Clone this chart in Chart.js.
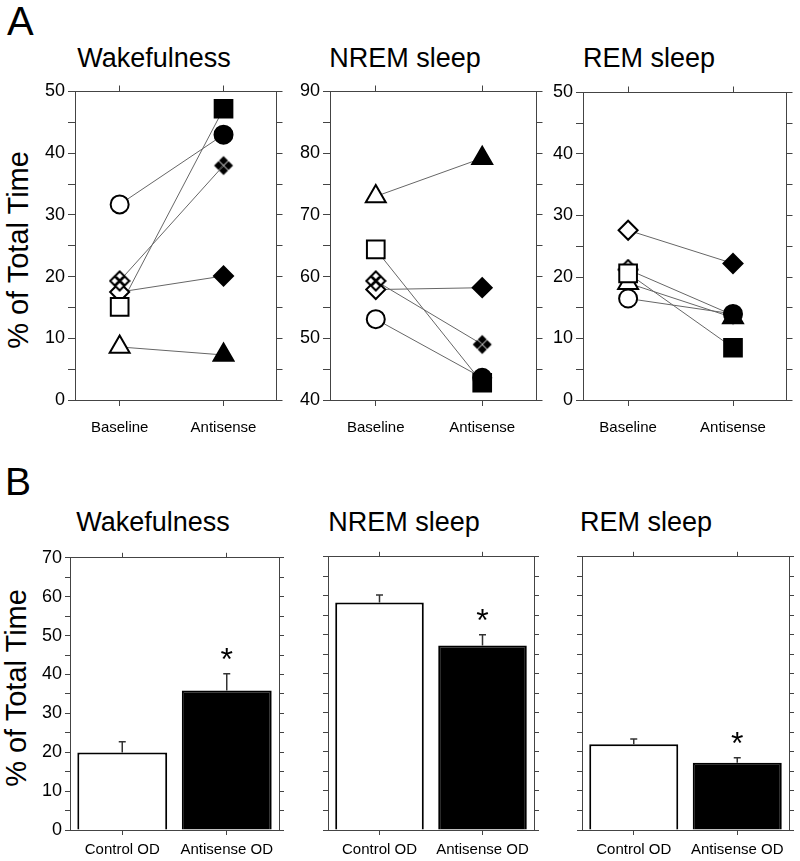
<!DOCTYPE html>
<html>
<head>
<meta charset="utf-8">
<title>Sleep-wake states: baseline vs antisense</title>
<script src="https://cdn.jsdelivr.net/npm/chart.js@4.4.1/dist/chart.umd.min.js"></script>
<style>
  body { margin: 0; background: #fff; }
  #page { position: relative; width: 800px; height: 861px; overflow: hidden;
          font-family: Arial, "Liberation Sans", Helvetica, sans-serif; color: #000; }
  #page canvas { position: absolute; }
  .lbl { position: absolute; white-space: nowrap; line-height: 1; }
  .ttl { font-size: 27px; transform: translateX(-50%); }
  .ylab { font-size: 29px; transform: translate(-50%, -50%) rotate(-90deg); }
</style>
</head>
<body>
<div id="page">
  <div class="lbl" style="left:7px; top:1px; font-size:40px;">A</div>
  <div class="lbl" style="left:5px; top:462px; font-size:39px;">B</div>

  <div class="lbl ttl" style="left:154px; top:45px;">Wakefulness</div>
  <div class="lbl ttl" style="left:405px; top:45px;">NREM sleep</div>
  <div class="lbl ttl" style="left:649px; top:45px;">REM sleep</div>
  <div class="lbl ttl" style="left:153px; top:509px;">Wakefulness</div>
  <div class="lbl ttl" style="left:404px; top:509px;">NREM sleep</div>
  <div class="lbl ttl" style="left:646px; top:509px;">REM sleep</div>

  <div class="lbl ylab" style="left:18px; top:250px;">% of Total Time</div>
  <div class="lbl ylab" style="left:16px; top:688px;">% of Total Time</div>

  <canvas id="aWake"></canvas>
  <canvas id="aNrem"></canvas>
  <canvas id="aRem"></canvas>
  <canvas id="bWake"></canvas>
  <canvas id="bNrem"></canvas>
  <canvas id="bRem"></canvas>
</div>

<script>
// ===========================
// DATA
// ===========================

// panel A: one line per animal, baseline -> antisense
const groupLabelsA = ['Baseline', 'Antisense'];
const markers = ['circle', 'square', 'crossDiamond', 'diamond', 'triangle'];

const wakeBaseline  = [31.7, 15.1, 19.3, 17.5, 8.6];
const wakeAntisense = [43.0, 47.2, 38.0, 20.1, 7.3];

const nremBaseline  = [53.1, 64.4, 59.3, 57.9, 73.0];
const nremAntisense = [43.6, 42.8, 49.0, 58.2, 79.2];

const remBaseline   = [16.5, 20.6, 21.2, 27.6, 19.0];
const remAntisense  = [14.0, 8.5, 13.8, 22.2, 13.4];

// panel B: group mean + SEM
const groupLabelsB = ['Control OD', 'Antisense OD'];
const wakeMean = [19.9, 35.9];
const wakeSem  = [2.8, 4.3];
const nremMean = [58.3, 47.3];
const nremSem  = [1.9, 2.7];
const remMean  = [22.0, 17.2];
const remSem   = [1.3, 1.3];
const significant = [false, true];

// ===========================
// STYLE
// ===========================
const FONT = 'Arial, "Liberation Sans", Helvetica, sans-serif';
const AXIS = '#444';
const LEFT_W = 60, RIGHT_W = 12, TOP_H = 12, BOTTOM_H = 50;

// four little diamonds (the "❖" marker), open or filled
function makeCrossDiamond(filled) {
    let c = document.createElement('canvas');
    c.width = 22; c.height = 22;
    let g = c.getContext('2d');
    let offs = [[0, -5], [5, 0], [0, 5], [-5, 0]];
    let h = 4.5;
    g.beginPath();
    offs.forEach(([dx, dy]) => {
        let x = 11 + dx, y = 11 + dy;
        g.moveTo(x, y - h); g.lineTo(x + h, y); g.lineTo(x, y + h); g.lineTo(x - h, y); g.closePath();
    });
    g.fillStyle = filled ? '#000' : '#fff';
    g.fill();
    if (!filled) { g.lineWidth = 2; g.strokeStyle = '#000'; g.stroke(); }
    return c;
}

const markerStyle = {
    circle:       { open: 'circle',   filled: 'circle',   r: 9 },
    square:       { open: 'rect',     filled: 'rect',     r: 12.5 },
    crossDiamond: { open: makeCrossDiamond(false), filled: makeCrossDiamond(true), r: 10 },
    diamond:      { open: 'rectRot',  filled: 'rectRot',  r: 9.5 },
    triangle:     { open: 'triangle', filled: 'triangle', r: 11.5 }
};

function placeCanvas(id, box) {
    let c = document.getElementById(id);
    let w = (box.r - box.l) + LEFT_W + RIGHT_W;
    let h = (box.b - box.t) + TOP_H + BOTTOM_H;
    c.width = w; c.height = h;
    c.style.left = (box.l - LEFT_W) + 'px';
    c.style.top = (box.t - TOP_H) + 'px';
    c.style.width = w + 'px';
    c.style.height = h + 'px';
    return c;
}

function yAxis(pos, min, max, showLabels, tickLen, width) {
    return {
        type: 'linear', position: pos, min: min, max: max,
        border: { display: true, color: AXIS, width: 1 },
        grid: { drawOnChartArea: false, drawTicks: true, tickLength: tickLen, color: AXIS },
        ticks: {
            stepSize: 5, padding: 3, color: '#000', autoSkip: false,
            font: { size: 18, family: FONT },
            callback: v => (showLabels && v % 10 === 0) ? String(v) : ''
        },
        afterFit: s => { s.width = width; }
    };
}

function xLinearAxis(pos, showLabels, height) {
    return {
        type: 'linear', position: pos, min: -0.43, max: 1.51,
        afterBuildTicks: s => { s.ticks = [{ value: 0 }, { value: 1 }]; },
        border: { display: true, color: AXIS, width: 1 },
        grid: { drawOnChartArea: false, drawTicks: true, tickLength: 6, color: AXIS },
        ticks: {
            padding: 13, color: '#000', autoSkip: false, maxRotation: 0,
            font: { size: 15, family: FONT },
            callback: v => showLabels ? groupLabelsA[v] : ''
        },
        afterFit: s => { s.height = height; }
    };
}

function xCategoryAxis(pos, showLabels, height) {
    return {
        type: 'category', position: pos, labels: groupLabelsB, offset: true,
        border: { display: true, color: AXIS, width: 1 },
        grid: { offset: false, drawOnChartArea: false, drawTicks: true, tickLength: 5, color: AXIS },
        ticks: {
            padding: 6, color: '#000', autoSkip: false, maxRotation: 0,
            font: { size: 15, family: FONT },
            callback: (v, i) => showLabels ? groupLabelsB[i] : ''
        },
        afterFit: s => { s.height = height; }
    };
}

const baseOptions = {
    responsive: false,
    animation: false,
    devicePixelRatio: 1,
    layout: { padding: 0 },
    plugins: { legend: { display: false }, tooltip: { enabled: false } }
};

// =============== PANEL A (paired lines) ===============
function pairedChart(id, box, yMin, yMax, base, anti) {
    let canvas = placeCanvas(id, box);
    let datasets = [];
    // points on top (order 0), connecting lines below (order 1)
    markers.forEach((m, i) => {
        let st = markerStyle[m];
        datasets.push({
            data: [{ x: 0, y: base[i] }, { x: 1, y: anti[i] }],
            showLine: false,
            order: 0,
            pointStyle: [st.open, st.filled],
            pointRadius: st.r,
            pointBackgroundColor: ['#fff', '#000'],
            pointBorderColor: '#000',
            pointBorderWidth: 2
        });
        datasets.push({
            data: [{ x: 0, y: base[i] }, { x: 1, y: anti[i] }],
            showLine: true,
            order: 1,
            borderColor: '#666',
            borderWidth: 1,
            pointRadius: 0
        });
    });
    return new Chart(canvas, {
        type: 'scatter',
        data: { datasets: datasets },
        options: Object.assign({}, baseOptions, {
            scales: {
                x: xLinearAxis('bottom', true, BOTTOM_H),
                x2: xLinearAxis('top', false, TOP_H),
                y: yAxis('left', yMin, yMax, true, 7, LEFT_W),
                y2: yAxis('right', yMin, yMax, false, 6, RIGHT_W)
            }
        })
    });
}

// =============== PANEL B (mean bars + SEM) ===============
const errorBarPlugin = {
    id: 'errorBars',
    afterDatasetsDraw(chart) {
        let ds = chart.data.datasets[0];
        let meta = chart.getDatasetMeta(0);
        let ys = chart.scales.y;
        let ctx = chart.ctx;
        ctx.save();
        meta.data.forEach((bar, i) => {
            let top = ys.getPixelForValue(ds.data[i]);
            let errTop = ys.getPixelForValue(ds.data[i] + ds.sem[i]);
            ctx.strokeStyle = '#333';
            ctx.lineWidth = 1.5;
            ctx.beginPath();
            ctx.moveTo(bar.x, top);
            ctx.lineTo(bar.x, errTop);
            ctx.moveTo(bar.x - 3.5, errTop);
            ctx.lineTo(bar.x + 3.5, errTop);
            ctx.stroke();
            if (ds.sig[i]) {
                ctx.fillStyle = '#000';
                ctx.font = '32px ' + FONT;
                ctx.textAlign = 'center';
                ctx.textBaseline = 'alphabetic';
                ctx.fillText('*', bar.x, errTop - 4);
            }
        });
        ctx.restore();
    }
};

function barChart(id, box, means, sems, showYLabels) {
    let canvas = placeCanvas(id, box);
    return new Chart(canvas, {
        type: 'bar',
        data: {
            labels: groupLabelsB,
            datasets: [{
                data: means,
                sem: sems,
                sig: significant,
                backgroundColor: ['#fff', '#000'],
                borderColor: '#000',
                borderWidth: 2,
                barPercentage: 0.86,
                categoryPercentage: 1.0
            }]
        },
        options: Object.assign({}, baseOptions, {
            scales: {
                x: xCategoryAxis('bottom', true, BOTTOM_H),
                x2: xCategoryAxis('top', false, TOP_H),
                y: yAxis('left', 0, 70, showYLabels, 5, LEFT_W),
                y2: yAxis('right', 0, 70, false, 5, RIGHT_W)
            }
        }),
        plugins: [errorBarPlugin]
    });
}

// =============== DRAW ===============
pairedChart('aWake', { l: 75, r: 279, t: 89, b: 400 }, 0, 50, wakeBaseline, wakeAntisense);
pairedChart('aNrem', { l: 330, r: 539, t: 89, b: 400 }, 40, 90, nremBaseline, nremAntisense);
pairedChart('aRem',  { l: 583, r: 789, t: 90, b: 400 }, 0, 50, remBaseline, remAntisense);

barChart('bWake', { l: 70, r: 279, t: 556, b: 830 }, wakeMean, wakeSem, true);
barChart('bNrem', { l: 328, r: 534, t: 555, b: 830 }, nremMean, nremSem, false);
barChart('bRem',  { l: 582, r: 789, t: 555, b: 830 }, remMean, remSem, false);
</script>
</body>
</html>
